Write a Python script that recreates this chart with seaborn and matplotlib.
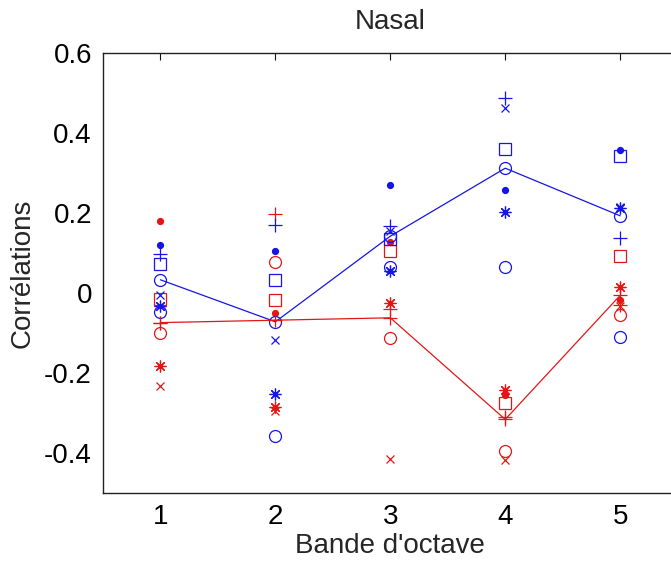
import matplotlib
matplotlib.use("Agg")
import matplotlib.pyplot as plt
import seaborn as sns
import numpy as np
import pandas as pd

# ---------------- data ----------------
bands = [1, 2, 3, 4, 5]
xtick_labels = ["1", "2", "3", "4", "5"]
ytick_values = [-0.4, -0.2, 0, 0.2, 0.4, 0.6]
ytick_labels = ["-0.4", "-0.2", "0", "0.2", "0.4", "0.6"]

# blue group (individual conditions)
blue_dot    = [0.120, 0.104, 0.270, 0.257, 0.357]
blue_plus   = [0.097, 0.169, 0.167, 0.488, 0.137]
blue_square = [0.073, 0.033, 0.135, 0.360, 0.342]
blue_cross  = [-0.006, -0.117, 0.155, 0.4615, 0.215]
blue_star   = [-0.032, -0.253, 0.055, 0.203, 0.212]
blue_circle = [-0.048, -0.357, 0.066, 0.066, -0.110]
blue_mean   = [0.033, -0.072, 0.142, 0.312, 0.193]

# red group (individual conditions)
red_dot    = [0.181, -0.049, 0.128, -0.256, -0.018]
red_plus   = [-0.076, 0.1975, -0.040, -0.310, -0.030]
red_square = [-0.014, -0.017, 0.106, -0.274, 0.093]
red_cross  = [-0.233, -0.296, -0.414, -0.417, -0.033]
red_star   = [-0.183, -0.284, -0.026, -0.2425, 0.015]
red_circle = [-0.101, 0.077, -0.113, -0.396, -0.055]
red_mean   = [-0.074, -0.068, -0.062, -0.316, -0.006]

title = "Nasal"
xlabel = "Bande d'octave"
ylabel = "Corrélations"

# ---------------- style ----------------
sns.set_style("white")
plt.rcParams['font.family'] = ['Liberation Sans', 'DejaVu Sans']
plt.rcParams['font.size'] = 20

BLUE = "#1515e6"
RED = "#e61515"

fig = plt.figure(figsize=(6.71, 5.61), dpi=100)
ax = fig.add_axes([103/671, 68/561, (677.6-103)/671, 440/561])

asterisk = (8, 2, 0)
marker_specs = {
    "dot":    dict(marker="o", ms=4.3, filled=True),
    "plus":   dict(marker="+", ms=10, filled=False),
    "square": dict(marker="s", ms=8.2, filled=False),
    "cross":  dict(marker="x", ms=6.0, filled=False),
    "star":   dict(marker=asterisk, ms=8.5, filled=False),
    "circle": dict(marker="o", ms=8.6, filled=False),
}

def draw(values, kind, color):
    spec = marker_specs[kind]
    df = pd.DataFrame({"band": bands, "corr": values})
    kw = dict(marker=spec["marker"], markersize=spec["ms"], linestyle="",
              markeredgecolor=color, markeredgewidth=0.9, color=color)
    kw["markerfacecolor"] = color if spec["filled"] else "none"
    sns.lineplot(data=df, x="band", y="corr", ax=ax, legend=False, **kw)

groups = [
    (RED, [("cross", red_cross), ("star", red_star), ("circle", red_circle),
           ("square", red_square), ("plus", red_plus), ("dot", red_dot)]),
    (BLUE, [("cross", blue_cross), ("star", blue_star), ("circle", blue_circle),
            ("square", blue_square), ("plus", blue_plus), ("dot", blue_dot)]),
]
for color, series in groups:
    for kind, vals in series:
        draw(vals, kind, color)

# mean lines
df_bm = pd.DataFrame({"band": bands, "corr": blue_mean})
sns.lineplot(data=df_bm, x="band", y="corr", ax=ax, legend=False, color=BLUE,
             linewidth=0.9, marker="o", markersize=8.6, markerfacecolor="none",
             markeredgecolor=BLUE, markeredgewidth=0.9)
df_rm = pd.DataFrame({"band": bands, "corr": red_mean})
sns.lineplot(data=df_rm, x="band", y="corr", ax=ax, legend=False, color=RED,
             linewidth=0.9, marker="+", markersize=10, markeredgecolor=RED,
             markeredgewidth=0.9)

ax.set_xlim(0.5, 5.5)
ax.set_ylim(-0.5, 0.6)
ax.set_xticks(bands)
ax.set_xticklabels(xtick_labels)
ax.set_yticks(ytick_values)
ax.set_yticklabels(ytick_labels)
ax.tick_params(direction="in", length=5, width=0.8, top=True, right=True,
               labelsize=20, pad=8, colors="#111111", labelcolor="black")
for s in ax.spines.values():
    s.set_visible(True)
    s.set_color("#222222")
    s.set_linewidth(1.0)

ax.set_title(title, fontsize=20, pad=17)
ax.set_xlabel(xlabel, fontsize=20, labelpad=2)
ax.set_ylabel(ylabel, fontsize=20, labelpad=6)
ax.grid(False)

fig.savefig("out.png", dpi=100, facecolor="white")
